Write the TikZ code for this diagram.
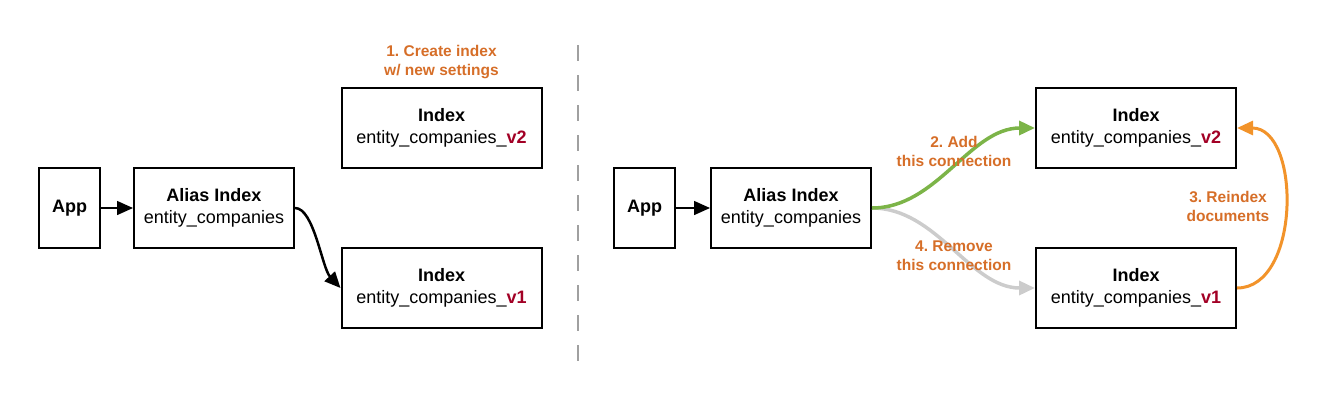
\documentclass[tikz,border=0pt]{standalone}
\usepackage{fontspec}
\setmainfont{Liberation Sans}
\usetikzlibrary{positioning, arrows.meta}
\frenchspacing

\definecolor{vred}{RGB}{162,0,37}
\definecolor{noteorange}{RGB}{214,110,40}
\definecolor{addgreen}{RGB}{124,180,72}
\definecolor{dropgray}{RGB}{204,204,204}
\definecolor{copyorange}{RGB}{242,147,42}
\definecolor{sepgray}{RGB}{160,160,160}

\begin{document}
\begin{tikzpicture}[x=1pt,y=-1pt,>={Triangle[length=16pt,width=14pt]},auto,node distance=34pt,
      main node/.style={rectangle,draw,line width=2pt,align=center,minimum height=80pt,
        inner sep=0pt,font=\fontsize{18}{22}\selectfont},
      app node/.style={main node,minimum width=61pt,font=\fontsize{18}{22}\selectfont\bfseries},
      alias node/.style={main node,minimum width=160pt},
      index node/.style={main node,minimum width=200pt},
      note node/.style={text=noteorange,align=center,font=\fontsize{15.5}{19}\selectfont\bfseries}]

    \useasboundingbox (0,0) rectangle (1329,408);

    % left: before
    \node[app node] (app1) at (69.5,208) {App};
    \node[alias node] (alias1) [right=32pt of app1] {\textbf{Alias Index}\\entity\_companies};
    \node[index node] (v2a) at (441.5,128) {\textbf{Index}\\entity\_companies\_\textcolor{vred}{\textbf{v2}}};
    \node[index node] (v1a) at (441.5,288) {\textbf{Index}\\entity\_companies\_\textcolor{vred}{\textbf{v1}}};
    \node[note node] (note1) at (441.5,62) {1. Create index\\w/ new settings};

    \draw[->,line width=1.5pt] (app1) -- (alias1);
    \draw[->,line width=2.5pt] (alias1.east) .. controls (314,208) and (322,268) .. (v1a.west);

    % separator
    \coordinate (sep top) at (578,45);
    \coordinate (sep bottom) at (578,368);
    \draw[sepgray,line width=1.5pt,dash pattern=on 16pt off 14pt] (sep top) -- (sep bottom);

    % right: after
    \node[app node] (app2) at (644.5,208) {App};
    \node[alias node] (alias2) [right=34pt of app2] {\textbf{Alias Index}\\entity\_companies};
    \node[index node] (v2b) at (1136,128) {\textbf{Index}\\entity\_companies\_\textcolor{vred}{\textbf{v2}}};
    \node[index node] (v1b) at (1136,288) {\textbf{Index}\\entity\_companies\_\textcolor{vred}{\textbf{v1}}};

    \draw[->,line width=1.5pt] (app2) -- (alias2);
    \draw[->,dropgray,line width=3.5pt] (alias2.east) .. controls +(65,0) and +(-65,0) .. (v1b.west);
    \draw[->,addgreen,line width=3.5pt] (alias2.east) .. controls +(65,0) and +(-65,0) .. (v2b.west);
    \draw[->,copyorange,line width=3pt] (v1b.east) .. controls +(64,0) and +(64,0) .. (v2b.east);

    \node[note node] (note2) at (954,151.5) {2. Add\\this connection};
    \node[note node] (note4) at (954,256) {4. Remove\\this connection};
    \node[note node] (note3) at (1228,206) {3. Reindex\\documents};
\end{tikzpicture}
\end{document}
